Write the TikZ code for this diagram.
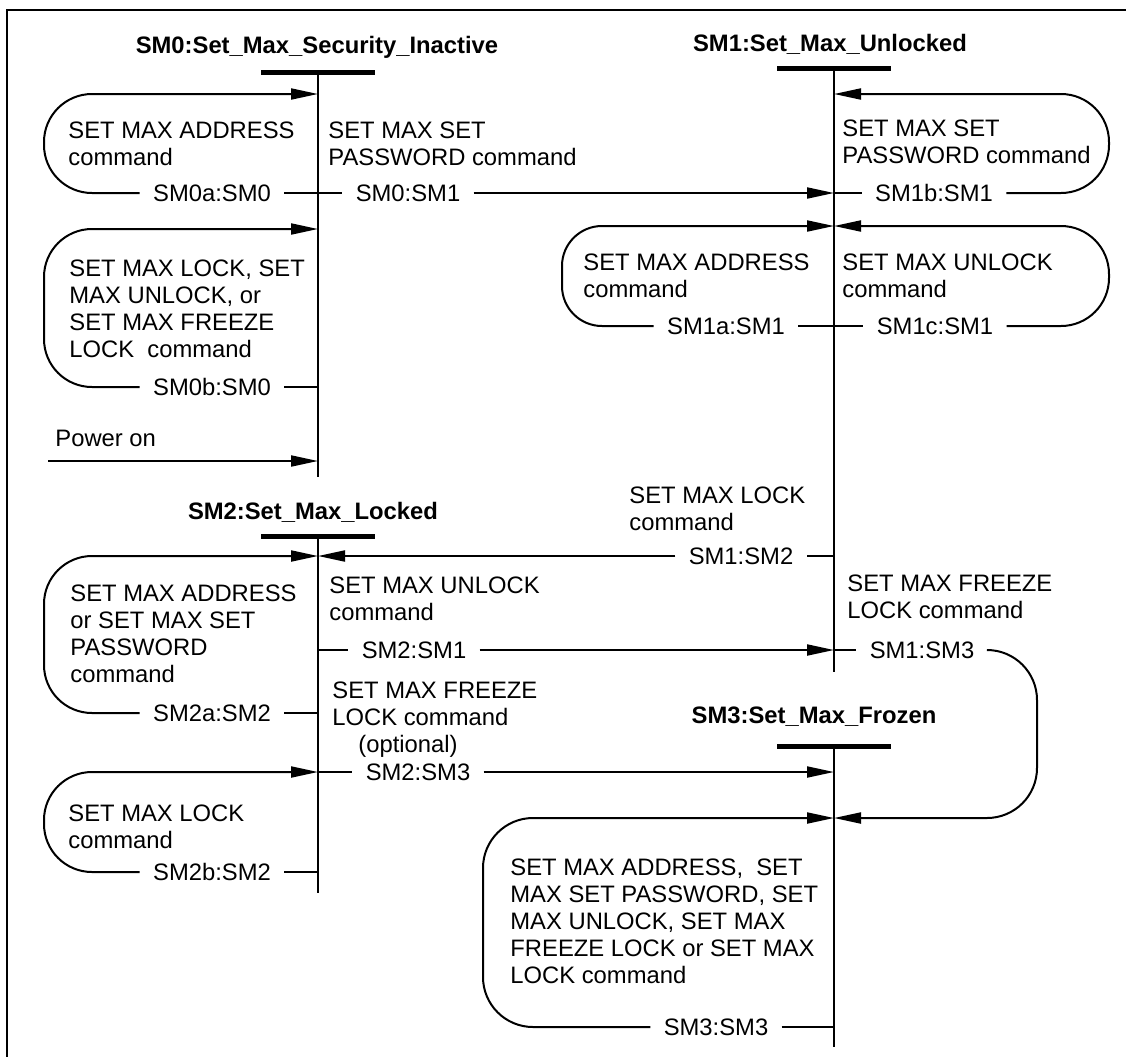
\documentclass[tikz,border=0pt]{standalone}
\usepackage{fontspec}
\setmainfont{Liberation Sans}
\usetikzlibrary{arrows.meta}
\newcommand{\txtsize}{\fontsize{11.9}{13.5}\selectfont}
\tikzset{
  state/.style={font=\txtsize\bfseries, anchor=base, inner sep=0pt},
  bar/.style={fill=black, inner sep=0pt, minimum width=57pt, minimum height=2.5pt},
  life/.style={line width=1pt},
  link/.style={line width=1pt},
  trans/.style={line width=1pt, -{Triangle[length=13.5pt,width=5.5pt]}},
  cond/.style={anchor=north west, align=left, inner sep=0pt},
  tag/.style={inner xsep=6.5pt, inner ysep=1pt},
}

\begin{document}
\begin{tikzpicture}[x=0.5pt, y=-0.5pt, font=\txtsize]
    \useasboundingbox (0,0) rectangle (1126,1057);
    \draw [line width=1.4pt] (1126,10) -- (7,10) -- (7,1057);

    % states and their life lines
    \node [state] (s0) at (317,53.5) {SM0:Set\_Max\_Security\_Inactive};
    \node [state] (s1) at (830,51.5) {SM1:Set\_Max\_Unlocked};
    \node [state] (s2) at (313,519.5) {SM2:Set\_Max\_Locked};
    \node [state] (s3) at (814,723.5) {SM3:Set\_Max\_Frozen};
    \node [bar] (b0) at (318,72) {};
    \node [bar] (b1) at (834,68) {};
    \node [bar] (b2) at (318,536) {};
    \node [bar] (b3) at (834,746) {};
    \coordinate (e0) at (318,477);
    \coordinate (e1) at (834,672);
    \coordinate (e2) at (318,893);
    \coordinate (e3) at (834,1047);
    \draw [life] (b0.center) -- (e0);
    \draw [life] (b1.center) -- (e1);
    \draw [life] (b2.center) -- (e2);
    \draw [life] (b3.center) -- (e3);

    % conditions
    \node [cond] (t0a) at (68,121.5) {SET MAX ADDRESS\\command};
    \node [cond] (t01) at (328,121.5) {SET MAX SET\\PASSWORD command};
    \node [cond] (t0b) at (69,259.5) {SET MAX LOCK, SET\\MAX UNLOCK, or\\SET MAX FREEZE\\LOCK\ \ command};
    \node [cond] (tpwr) at (55,429.5) {Power on};
    \node [cond] (t1b) at (842,119.5) {SET MAX SET\\PASSWORD command};
    \node [cond] (t1a) at (583,253.5) {SET MAX ADDRESS\\command};
    \node [cond] (t1c) at (842,253.5) {SET MAX UNLOCK\\command};
    \node [cond] (t12) at (629,486.5) {SET MAX LOCK\\command};
    \node [cond] (t13) at (847,574.5) {SET MAX FREEZE\\LOCK command};
    \node [cond] (t21) at (329,576.5) {SET MAX UNLOCK\\command};
    \node [cond] (t2a) at (70,584.5) {SET MAX ADDRESS\\or SET MAX SET\\PASSWORD\\command};
    \node [cond] (t23) at (332,681.5) {SET MAX FREEZE\\LOCK command\\\hspace{13pt}(optional)};
    \node [cond] (t2b) at (68,804.5) {SET MAX LOCK\\command};
    \node [cond] (t33) at (510,858.5) {SET MAX ADDRESS,\ \ SET\\MAX SET PASSWORD, SET\\MAX UNLOCK, SET MAX\\FREEZE LOCK or SET MAX\\LOCK command};

    % transition tags
    \node [tag] (g0a) at (212,193) {SM0a:SM0};
    \node [tag] (g01) at (408,193) {SM0:SM1};
    \node [tag] (g0b) at (212,387) {SM0b:SM0};
    \node [tag] (g1b) at (934,193) {SM1b:SM1};
    \node [tag] (g1a) at (726,326) {SM1a:SM1};
    \node [tag] (g1c) at (935,326) {SM1c:SM1};
    \node [tag] (g12) at (741,556) {SM1:SM2};
    \node [tag] (g21) at (414,650) {SM2:SM1};
    \node [tag] (g13) at (922,650) {SM1:SM3};
    \node [tag] (g2a) at (212,713) {SM2a:SM2};
    \node [tag] (g23) at (418,772) {SM2:SM3};
    \node [tag] (g2b) at (212,872) {SM2b:SM2};
    \node [tag] (g33) at (716,1027) {SM3:SM3};

    % entry points on the life lines
    \coordinate (i0a) at (318,94);
    \coordinate (i0b) at (318,229);
    \coordinate (ipwr) at (318,461);
    \coordinate (pwr) at (48,461);
    \coordinate (i1b) at (834,94);
    \coordinate (i1a) at (834,226);
    \coordinate (i2a) at (318,556);
    \coordinate (i2b) at (318,772);
    \coordinate (i3) at (834,818);

    % SM0
    \draw [link] (g0a.east) -- (g01.west);
    \draw [trans, rounded corners=24pt] (g0a.west) -| (44,94) -- (i0a);
    \draw [trans] (g01.east) -- (g01.east -| b1);
    \draw [link] (g0b.east) -- (g0b.east -| b0);
    \draw [trans, rounded corners=24pt] (g0b.west) -| (44,229) -- (i0b);
    \draw [trans] (pwr) -- (ipwr);

    % SM1
    \draw [link] (g1b.west -| b1) -- (g1b.west);
    \draw [trans, rounded corners=24pt] (g1b.east) -| (1109,94) -- (i1b);
    \draw [link] (g1a.east) -- (g1c.west);
    \draw [trans, rounded corners=20pt] (g1a.west) -| (562,226) -- (i1a);
    \draw [trans, rounded corners=24pt] (g1c.east) -| (1109,226) -- (i1a);
    \draw [link] (g12.east -| b1) -- (g12.east);
    \draw [trans] (g12.west) -- (g12.west -| b2);
    \draw [link] (g13.west -| b1) -- (g13.west);
    \draw [trans, rounded corners=25pt] (g13.east) -| (1037,818) -- (i3);

    % SM2
    \draw [trans, rounded corners=24pt] (g2a.west) -| (44,556) -- (i2a);
    \draw [link] (g2a.east) -- (g2a.east -| b2);
    \draw [link] (g21.west -| b2) -- (g21.west);
    \draw [trans] (g21.east) -- (g21.east -| b1);
    \draw [link] (g23.west -| b2) -- (g23.west);
    \draw [trans] (g23.east) -- (g23.east -| b3);
    \draw [trans, rounded corners=24pt] (g2b.west) -| (44,772) -- (i2b);
    \draw [link] (g2b.east) -- (g2b.east -| b2);

    % SM3
    \draw [trans, rounded corners=25pt] (g33.west) -| (483,818) -- (i3);
    \draw [link] (g33.east) -- (g33.east -| b3);
\end{tikzpicture}
\end{document}
